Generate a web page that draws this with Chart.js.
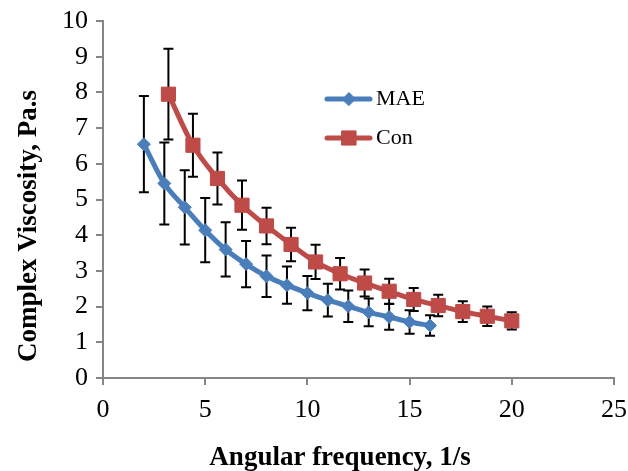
<!DOCTYPE html>
<html>
<head>
<meta charset="utf-8">
<script src="https://cdn.jsdelivr.net/npm/chart.js@4.4.1/dist/chart.umd.min.js"></script>
<style>
  body { margin: 0; background: #fff; }
  canvas { display: block; }
</style>
</head>
<body>
<canvas id="myChart" width="628" height="471"></canvas>
<script>
// Veriler
const maeFreq = [2, 3, 4, 5, 6, 7, 8, 9, 10, 11, 12, 13, 14, 15, 16];
const maeVisc = [6.55, 5.45, 4.78, 4.14, 3.6, 3.19, 2.85, 2.6, 2.38, 2.18, 2.01, 1.84, 1.71, 1.57, 1.47];
const maeErr = [1.35, 1.15, 1.04, 0.9, 0.76, 0.65, 0.58, 0.52, 0.48, 0.46, 0.44, 0.39, 0.36, 0.33, 0.29];

const conFreq = [3.2, 4.4, 5.6, 6.8, 8.0, 9.2, 10.4, 11.6, 12.8, 14.0, 15.2, 16.4, 17.6, 18.8, 20.0];
const conVisc = [7.95, 6.52, 5.59, 4.84, 4.26, 3.74, 3.25, 2.92, 2.66, 2.43, 2.2, 2.03, 1.86, 1.73, 1.6];
const conErr = [1.27, 0.88, 0.73, 0.69, 0.51, 0.47, 0.48, 0.44, 0.38, 0.35, 0.32, 0.3, 0.29, 0.27, 0.24];

const xTicks = [0, 5, 10, 15, 20, 25];
const yTicks = [0, 1, 2, 3, 4, 5, 6, 7, 8, 9, 10];

const seriesNames = ['MAE', 'Con'];
const xTitle = 'Angular frequency, 1/s';
const yTitle = 'Complex Viscosity, Pa.s';

const blue = '#4A7EBB';
const red = '#BE4B48';
const axisGray = '#868686';
const serif = '"Liberation Serif", "Times New Roman", serif';

function toPoints(xs, ys) {
    return xs.map((x, i) => ({ x: x, y: ys[i] }));
}

// Hata çubukları, eksen başlıkları ve açıklama kutusu
const extrasPlugin = {
    id: 'extras',
    beforeDatasetsDraw(chart) {
        const ctx = chart.ctx;
        const xs = chart.scales.x;
        const ys = chart.scales.y;
        const sets = [[maeFreq, maeVisc, maeErr], [conFreq, conVisc, conErr]];
        ctx.save();
        ctx.strokeStyle = '#000';
        ctx.lineWidth = 2;
        sets.forEach(([f, v, e]) => {
            f.forEach((x, i) => {
                const px = xs.getPixelForValue(x);
                const top = ys.getPixelForValue(v[i] + e[i]);
                const bot = ys.getPixelForValue(v[i] - e[i]);
                ctx.beginPath();
                ctx.moveTo(px, top); ctx.lineTo(px, bot);
                ctx.moveTo(px - 5, top); ctx.lineTo(px + 5, top);
                ctx.moveTo(px - 5, bot); ctx.lineTo(px + 5, bot);
                ctx.stroke();
            });
        });
        ctx.restore();
    },
    afterDraw(chart) {
        const ctx = chart.ctx;
        ctx.save();
        ctx.fillStyle = '#000';
        ctx.font = 'bold 27px ' + serif;
        ctx.textAlign = 'center';
        ctx.textBaseline = 'alphabetic';
        ctx.fillText(xTitle, 340, 465);

        ctx.translate(36, 226);
        ctx.rotate(-Math.PI / 2);
        ctx.fillText(yTitle, 0, 0);
        ctx.restore();

        // açıklama
        const legendItems = [
            { name: seriesNames[0], color: blue, style: 'rectRot', r: 6.5, y: 99 },
            { name: seriesNames[1], color: red, style: 'rect', r: 10, y: 138 }
        ];
        ctx.save();
        legendItems.forEach(it => {
            ctx.strokeStyle = it.color;
            ctx.lineWidth = 5;
            ctx.lineCap = 'round';
            ctx.beginPath();
            ctx.moveTo(327, it.y); ctx.lineTo(370, it.y);
            ctx.stroke();
            ctx.fillStyle = it.color;
            ctx.lineWidth = 1;
            Chart.helpers.drawPoint(ctx, { pointStyle: it.style, radius: it.r, borderWidth: 1 }, 349, it.y);
            ctx.fillStyle = '#000';
            ctx.font = '22px ' + serif;
            ctx.textAlign = 'left';
            ctx.textBaseline = 'middle';
            ctx.fillText(it.name, 376, it.y);
        });
        ctx.restore();
    }
};

const ctx = document.getElementById('myChart').getContext('2d');
const chart = new Chart(ctx, {
    type: 'scatter',
    data: {
        datasets: [{
            label: seriesNames[0],
            data: toPoints(maeFreq, maeVisc),
            showLine: true,
            borderColor: blue,
            backgroundColor: blue,
            borderWidth: 5,
            pointStyle: 'rectRot',
            pointRadius: 6.5,
            pointBorderWidth: 1,
            cubicInterpolationMode: 'monotone'
        }, {
            label: seriesNames[1],
            data: toPoints(conFreq, conVisc),
            showLine: true,
            borderColor: red,
            backgroundColor: red,
            borderWidth: 5,
            pointStyle: 'rect',
            pointRadius: 10,
            pointBorderWidth: 1,
            cubicInterpolationMode: 'monotone'
        }]
    },
    options: {
        responsive: false,
        animation: false,
        layout: { padding: { top: 21, right: 14, left: 0, bottom: 0 } },
        plugins: {
            legend: { display: false },
            tooltip: { enabled: false }
        },
        scales: {
            x: {
                type: 'linear',
                min: 0, max: 25,
                afterFit(scale) {
                    scale.height = 93;
                    scale.paddingLeft = 0;
                    scale.paddingRight = 0;
                },
                afterBuildTicks(scale) { scale.ticks = xTicks.map(v => ({ value: v })); },
                border: { color: axisGray, width: 2 },
                grid: { drawOnChartArea: false, drawTicks: true, tickLength: 7, color: axisGray, lineWidth: 2 },
                ticks: { color: '#000', font: { family: serif, size: 26 }, padding: 10, maxRotation: 0 }
            },
            y: {
                type: 'linear',
                min: 0, max: 10,
                afterFit(scale) {
                    scale.width = 103;
                    scale.paddingTop = 0;
                    scale.paddingBottom = 0;
                },
                afterBuildTicks(scale) { scale.ticks = yTicks.map(v => ({ value: v })); },
                border: { color: axisGray, width: 2 },
                grid: { drawOnChartArea: false, drawTicks: true, tickLength: 7, color: axisGray, lineWidth: 2 },
                ticks: { color: '#000', font: { family: serif, size: 26 }, padding: 8 }
            }
        }
    },
    plugins: [extrasPlugin]
});
</script>
</body>
</html>
